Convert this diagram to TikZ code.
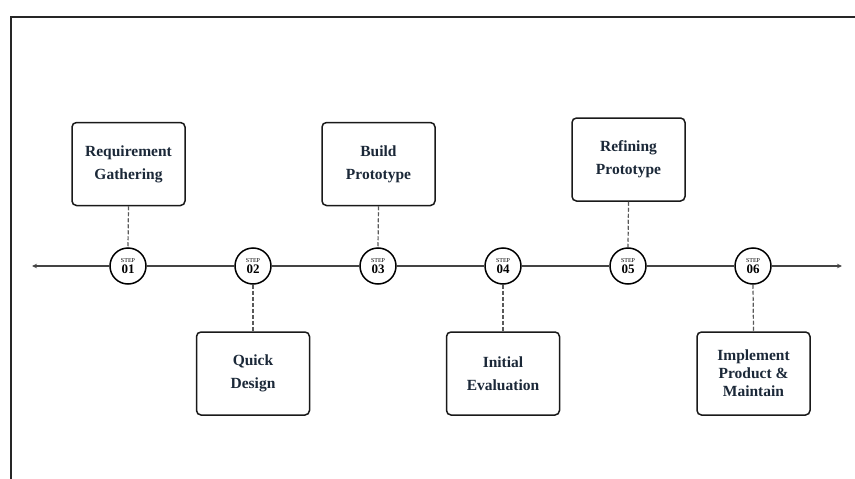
\documentclass[tikz,border=0pt]{standalone}
\usepackage{fontspec}
\setmainfont{Liberation Serif}
\usetikzlibrary{arrows.meta}
\definecolor{navy}{HTML}{1B2838}
\definecolor{linegray}{HTML}{444444}
\tikzset{
  stepcirc/.style={circle, draw=black, line width=1.5pt, fill=white, minimum size=36pt, inner sep=0pt, align=center},
  stagebox/.style={rectangle, rounded corners=4.5pt, draw=black!90, line width=1.5pt, fill=white, minimum width=113pt, minimum height=83pt, inner sep=2pt, align=center, text=navy, font=\fontsize{15.5}{23}\selectfont\bfseries},
  mainline/.style={draw=linegray, line width=1.1pt},
  dashlink/.style={draw=black!65, line width=1.2pt, dash pattern=on 4pt off 2pt},
  framestyle/.style={draw=black!85, line width=1.3pt},
  tip/.style={-{Stealth[length=5pt,width=4.5pt]}}
}
\newcommand{\stepnum}[1]{{\fontsize{6}{6}\selectfont STEP}\\[-1.5pt]{\fontsize{13}{13}\selectfont\bfseries #1}}
\begin{document}
\begin{tikzpicture}[x=1pt,y=-1pt]
\useasboundingbox (0,0) rectangle (855,479);
% frame
\coordinate (fb) at (11,479);
\coordinate (ft) at (11,17);
\coordinate (fr) at (855,17);
\draw[framestyle] (fb) -- (ft) -- (fr);
% step circles
\node[stepcirc] (s1) at (128,266) {\stepnum{01}};
\node[stepcirc] (s2) at (253,266) {\stepnum{02}};
\node[stepcirc] (s3) at (378,266) {\stepnum{03}};
\node[stepcirc] (s4) at (503,266) {\stepnum{04}};
\node[stepcirc] (s5) at (628,266) {\stepnum{05}};
\node[stepcirc] (s6) at (753,266) {\stepnum{06}};
% boxes
\node[stagebox] (b1) at (128.5,164) {Requirement\\Gathering};
\node[stagebox] (b3) at (378.5,164) {Build\\Prototype};
\node[stagebox] (b5) at (628.5,159.5) {Refining\\Prototype};
\node[stagebox] (b2) at (253,373.5) {Quick\\Design};
\node[stagebox] (b4) at (503,373.5) {Initial\\Evaluation};
\node[stagebox, font=\fontsize{15.5}{18}\selectfont\bfseries] (b6) at (753.5,373.5) {Implement\\Product \&\\Maintain};
% timeline
\coordinate (L) at (32,266);
\coordinate (R) at (842,266);
\draw[mainline, tip] (s1.west) -- (L);
\draw[mainline] (s1.east) -- (s2.west);
\draw[mainline] (s2.east) -- (s3.west);
\draw[mainline] (s3.east) -- (s4.west);
\draw[mainline] (s4.east) -- (s5.west);
\draw[mainline] (s5.east) -- (s6.west);
\draw[mainline, tip] (s6.east) -- (R);
% dashed links
\draw[dashlink] (b1.south) -- (s1.north);
\draw[dashlink] (b3.south) -- (s3.north);
\draw[dashlink] (b5.south) -- (s5.north);
\draw[dashlink] (s2.south) -- (b2.north);
\draw[dashlink] (s4.south) -- (b4.north);
\draw[dashlink] (s6.south) -- (b6.north);
\end{tikzpicture}
\end{document}
